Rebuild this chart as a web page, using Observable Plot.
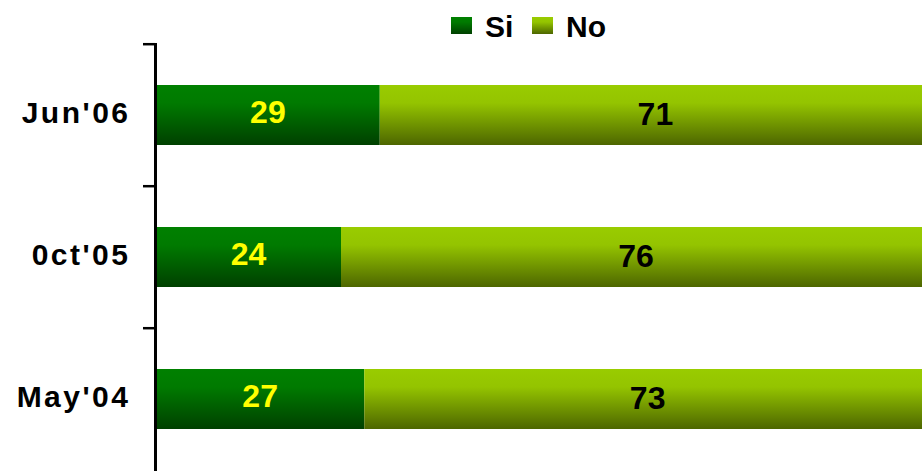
<!DOCTYPE html>
<html>
<head>
<meta charset="utf-8">
<script src="https://cdn.jsdelivr.net/npm/d3@7"></script>
<script src="https://cdn.jsdelivr.net/npm/@observablehq/plot@0.6"></script>
<style>
  html, body { margin: 0; padding: 0; background: #fff; overflow: hidden; }
  body { width: 922px; height: 471px; font-family: "Liberation Sans", Arial, sans-serif; }
  #legend { position: relative; height: 40px; }
  .sw { position: absolute; top: 17px; width: 21px; height: 17px; }
  .lt { position: absolute; top: 9px; font-size: 30px; font-weight: bold; line-height: 36px; color: #000; }
  svg { overflow: hidden; display: block; }
</style>
</head>
<body>
<div id="legend">
  <div class="sw" style="left:451px; background: linear-gradient(#008000 0%, #007a00 30%, #004000 100%);"></div>
  <div class="lt" style="left:485px;">Si</div>
  <div class="sw" style="left:532px; background: linear-gradient(#99cc00 0%, #94c400 30%, #4d6600 100%);"></div>
  <div class="lt" style="left:566px;">No</div>
</div>
<div id="chart"></div>
<script>
const periods = ["Jun'06", "0ct'05", "May'04"];
const series = ["Si", "No"];
const siValues = [29, 24, 27];
const noValues = [71, 76, 73];

const data = [];
periods.forEach((p, i) => {
  data.push({period: p, series: "Si", value: siValues[i]});
  data.push({period: p, series: "No", value: noValues[i]});
});

const font = "Liberation Sans, Arial, sans-serif";

const plot = Plot.plot({
  width: 922,
  height: 431,
  marginTop: 3,
  marginBottom: 0,
  marginLeft: 155,
  marginRight: 0,
  style: {fontFamily: font, background: "white", overflow: "hidden"},
  x: {domain: [0, 100], range: [155, 930], axis: null},
  y: {domain: periods, paddingInner: 0.58, paddingOuter: 0.29, label: null},
  color: {domain: series, range: ["url(#gSi)", "url(#gNo)"]},
  marks: [
    Plot.barX(data, Plot.stackX({x: "value", y: "period", z: "series", fill: "series", order: null})),
    Plot.text(data, Plot.stackX({
      x: "value", y: "period", z: "series", order: null,
      text: d => d.series === "Si" ? String(d.value) : null,
      fill: "#ffff00", fontSize: 32, fontWeight: "bold", fontFamily: font, dy: -3
    })),
    Plot.text(data, Plot.stackX({
      x: "value", y: "period", z: "series", order: null,
      text: d => d.series === "No" ? String(d.value) : null,
      fill: "#000000", fontSize: 32, fontWeight: "bold", fontFamily: font, dy: -1
    })),
    Plot.ruleX([0], {stroke: "#000", strokeWidth: 3}),
    Plot.axisY({tickSize: 12, tickFormat: () => "", dy: -71.3, strokeWidth: 2.5, stroke: "#000"}),
    Plot.axisY({tickSize: 0, tickPadding: 25, fontSize: 30, fontWeight: "bold", fontFamily: font, fill: "#000", dy: -2, label: null})
  ]
});

// gradient definitions used by the color scale
const svgNS = "http://www.w3.org/2000/svg";
const svg = plot.tagName.toLowerCase() === "svg" ? plot : plot.querySelector("svg");
const defs = document.createElementNS(svgNS, "defs");
function grad(id, stops) {
  const g = document.createElementNS(svgNS, "linearGradient");
  g.setAttribute("id", id);
  g.setAttribute("x1", "0"); g.setAttribute("y1", "0");
  g.setAttribute("x2", "0"); g.setAttribute("y2", "1");
  stops.forEach(([o, c]) => {
    const s = document.createElementNS(svgNS, "stop");
    s.setAttribute("offset", o);
    s.setAttribute("stop-color", c);
    g.appendChild(s);
  });
  defs.appendChild(g);
}
grad("gSi", [["0", "#008000"], ["0.3", "#007a00"], ["1", "#004000"]]);
grad("gNo", [["0", "#99cc00"], ["0.3", "#94c400"], ["1", "#4d6600"]]);
svg.insertBefore(defs, svg.firstChild);

d3.select(svg).selectAll("[aria-label='y-axis tick label'] text").style("letter-spacing", "2.5px");

document.getElementById("chart").appendChild(plot);
</script>
</body>
</html>
